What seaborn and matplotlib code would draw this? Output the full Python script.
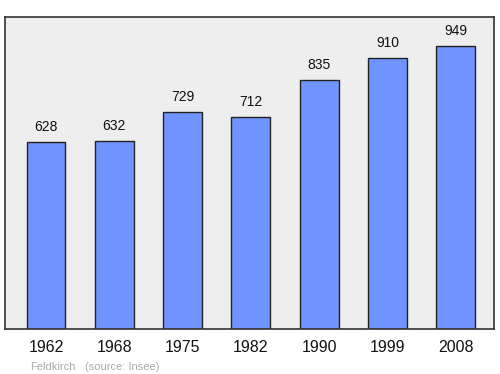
import matplotlib
matplotlib.use("Agg")
import matplotlib.pyplot as plt
import seaborn as sns
import pandas as pd

years = ["1962", "1968", "1975", "1982", "1990", "1999", "2008"]
population = [628, 632, 729, 712, 835, 910, 949]

sns.set_theme(style="white")
plt.rcParams['font.family'] = ['Liberation Sans', 'DejaVu Sans']

df = pd.DataFrame({"year": years, "pop": population})

fig = plt.figure(figsize=(5, 3.74), dpi=100)
ax = fig.add_axes([0.01, 0.12, 0.978, 0.8345])
ax.set_facecolor("#eeeeee")
sns.barplot(data=df, x="year", y="pop", color="#7094ff", saturation=1,
            width=0.57, edgecolor="#222222", linewidth=1, ax=ax)
for i, v in enumerate(population):
    ax.text(i, v + 27, str(v), ha="center", va="bottom", fontsize=10, color="#111111")
ax.set_xlim(-0.6, 6.56)
ax.set_ylim(0, 1047)
ax.set_yticks([])
ax.set_xlabel("")
ax.set_ylabel("")
ax.tick_params(axis="x", labelsize=11.5, pad=8, length=0, colors="#111111")
for s in ax.spines.values():
    s.set_color("#333333")
    s.set_linewidth(1.2)
fig.text(0.06, 0.012, "Feldkirch", fontsize=8, color="#aaaaaa")
fig.text(0.17, 0.012, "(source: Insee)", fontsize=8, color="#aaaaaa")
fig.savefig("out.png", dpi=100)
